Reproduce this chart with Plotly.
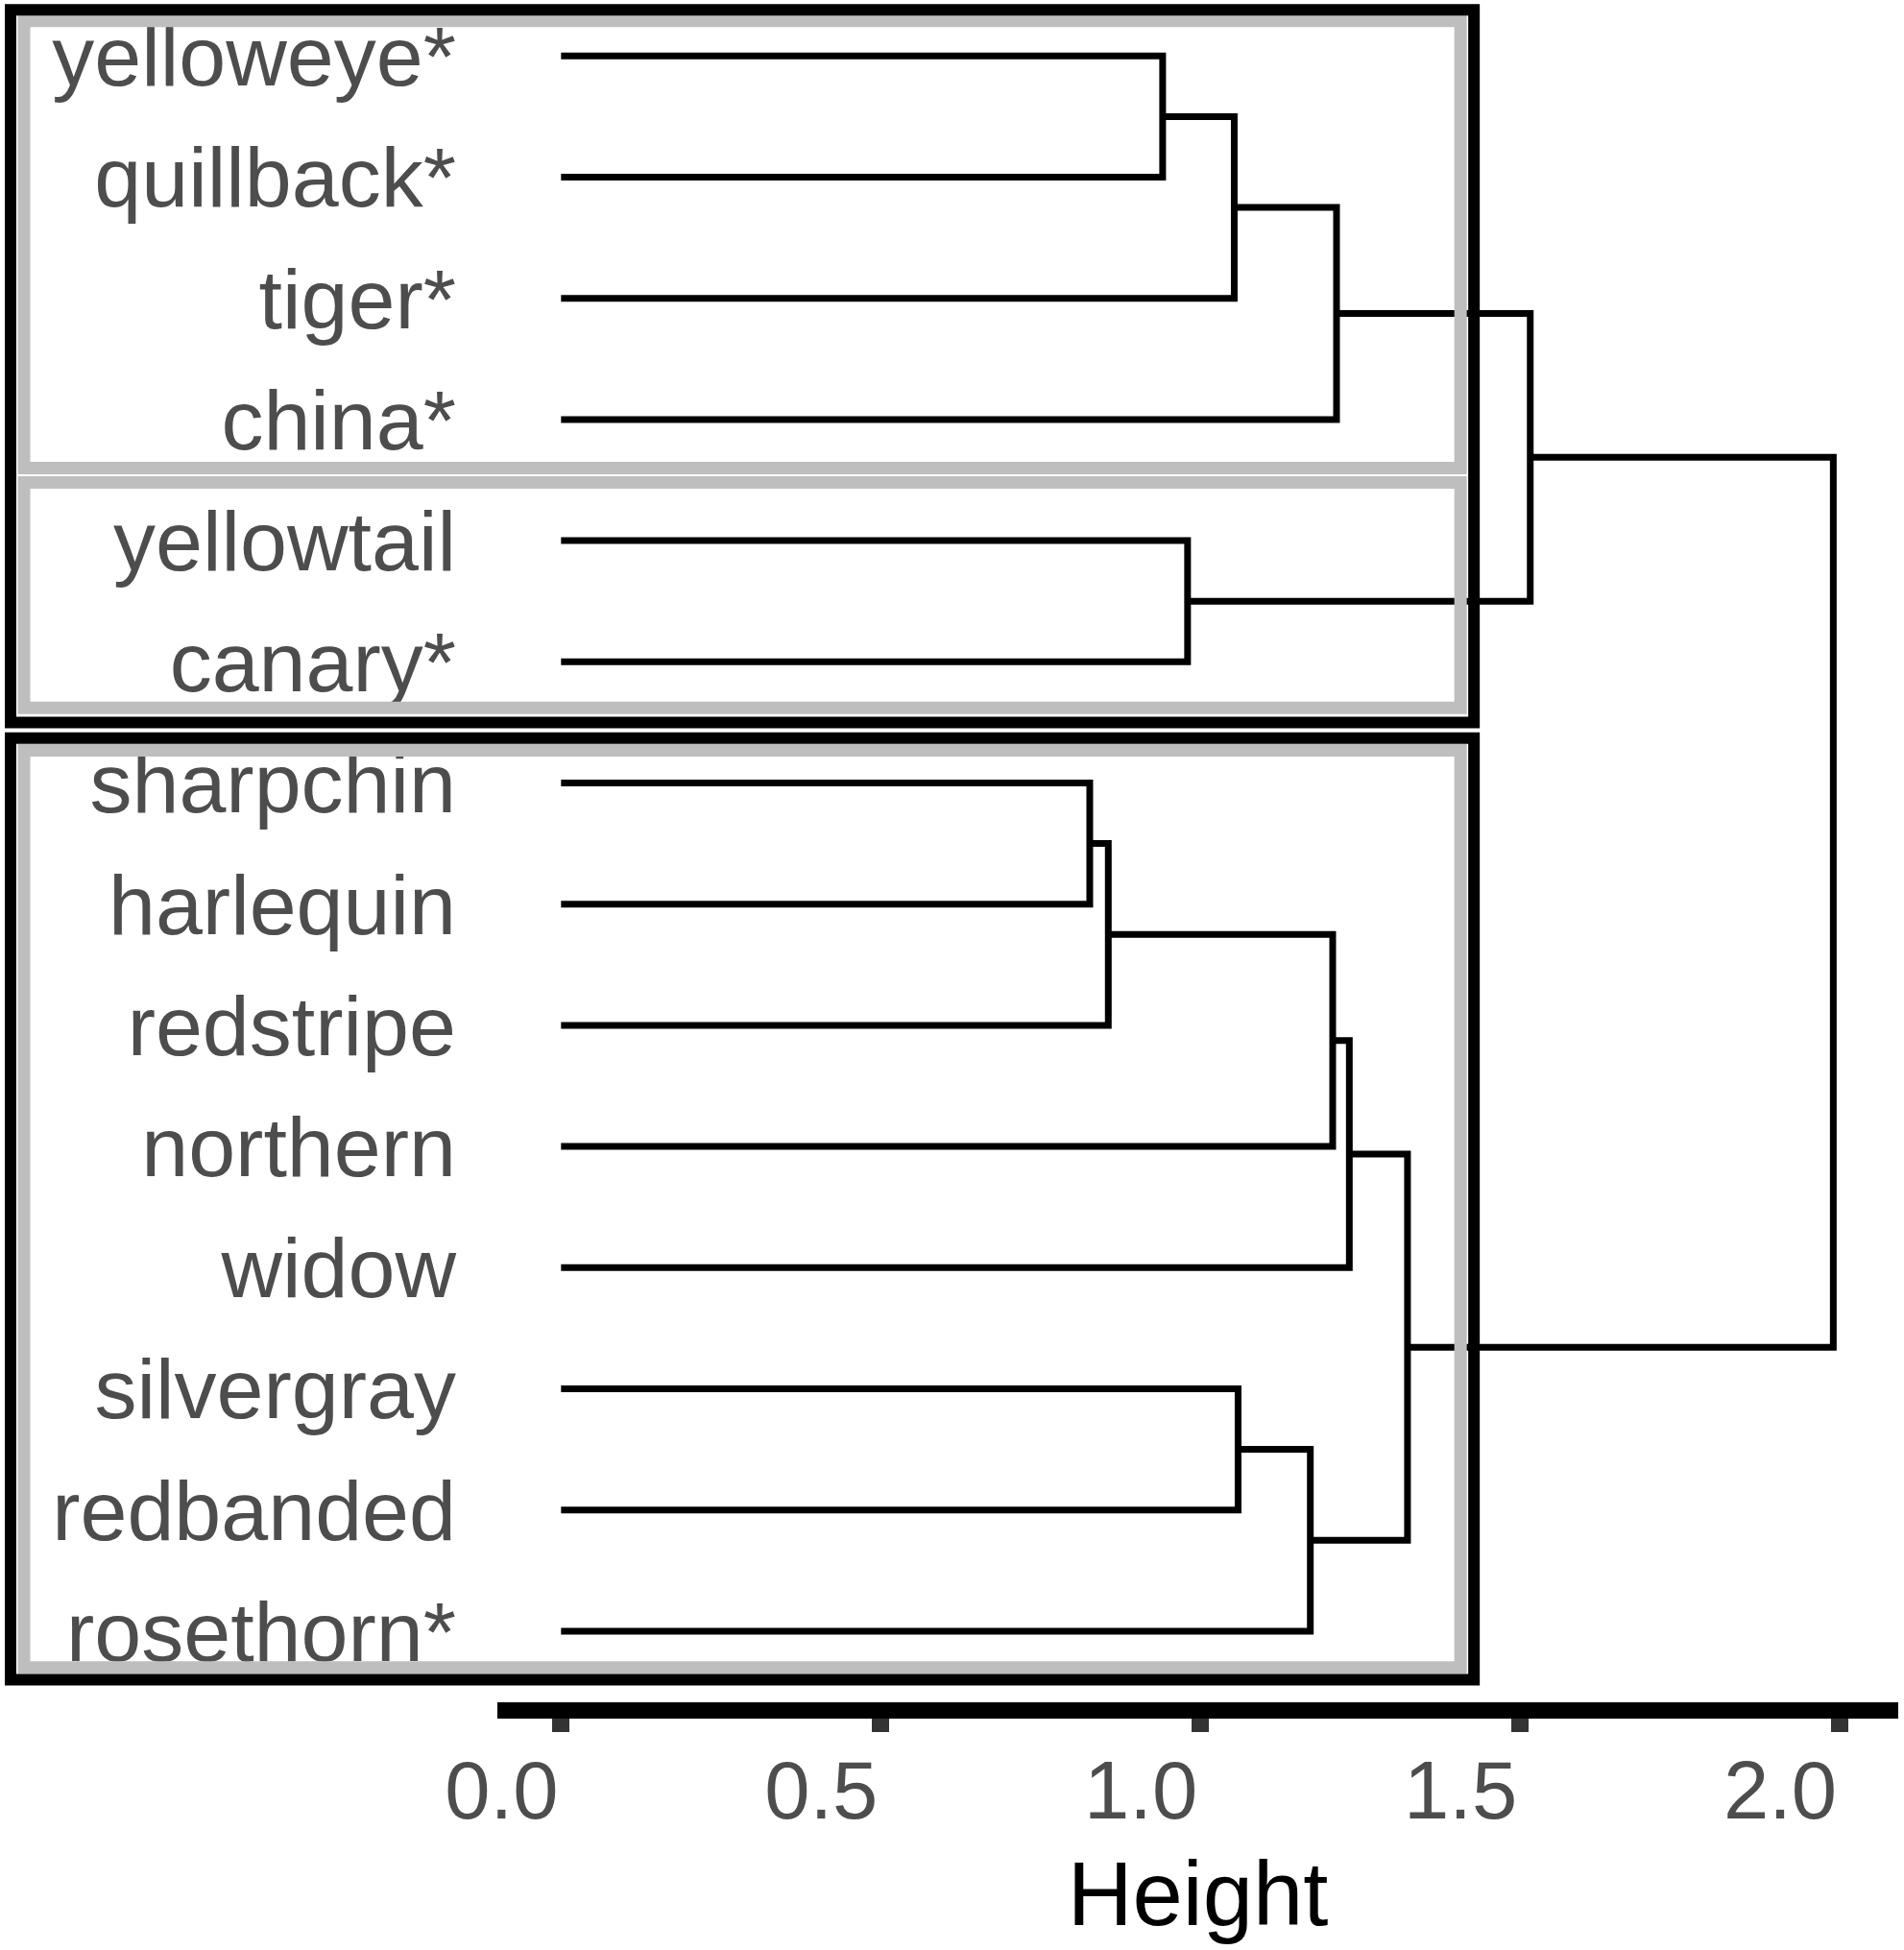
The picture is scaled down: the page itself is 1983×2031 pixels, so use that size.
import plotly.graph_objects as go

# leaves, top to bottom
labels = ["yelloweye*", "quillback*", "tiger*", "china*", "yellowtail", "canary*",
          "sharpchin", "harlequin", "redstripe", "northern", "widow",
          "silvergray", "redbanded", "rosethorn*"]

# hclust style merges: negative = leaf number, positive = earlier merge
merge_a = [-1, 1, 2, -5, 3, -7, 6, 7, 8, -12, 10, 9, 5]
merge_b = [-2, -3, -4, -6, 4, -8, -9, -10, -11, -13, -14, 11, 12]
merge_h = [0.941, 1.053, 1.213, 0.980, 1.516, 0.827, 0.856, 1.207, 1.233,
           1.059, 1.172, 1.324, 1.990]

# cluster boxes (first leaf, last leaf)
black_groups = [(1, 6), (7, 14)]
grey_groups = [(1, 4), (5, 6), (7, 14)]

XMIN, XMAX = -0.0996, 2.0916


def node(i):
    if i < 0:
        return 0.0, float(-i)
    return merge_h[i - 1], node_y[i - 1]


node_y = []
xs, ys = [], []
for a, b, h in zip(merge_a, merge_b, merge_h):
    ha, ya = node(a)
    hb, yb = node(b)
    node_y.append((ya + yb) / 2)
    xs += [ha, h, h, hb, None]
    ys += [ya, ya, yb, yb, None]

fig = go.Figure()
fig.add_trace(go.Scatter(x=xs, y=ys, mode="lines",
                         line=dict(color="black", width=7),
                         hoverinfo="skip", showlegend=False))


def px_paper(px):
    return (px - 518) / 1459


def h_paper(h):
    return (h - XMIN) / (XMAX - XMIN)


shapes = []
for (first, last), (pt, pb) in zip(grey_groups, [(0.29, 0.40), (0.48, 0.38), (0.27, 0.30)]):
    shapes.append(dict(type="rect", xref="paper", yref="y",
                       x0=px_paper(25), x1=h_paper(1.407),
                       y0=first - pt, y1=last + pb,
                       line=dict(color="#BEBEBE", width=13), layer="above"))
for (first, last), (pt, pb) in zip(black_groups, [(0.38, 0.50), (0.37, 0.40)]):
    shapes.append(dict(type="rect", xref="paper", yref="y",
                       x0=px_paper(11), x1=h_paper(1.428),
                       y0=first - pt, y1=last + pb,
                       line=dict(color="black", width=12), layer="above"))

fig.update_layout(
    width=1983, height=2031,
    margin=dict(l=518, r=6, t=0, b=258),
    plot_bgcolor="white", paper_bgcolor="white",
    font=dict(family="Liberation Sans, Arial", color="#4D4D4D"),
    shapes=shapes,
    xaxis=dict(range=[XMIN, XMAX], showgrid=False, zeroline=False,
               showline=True, linecolor="black", linewidth=17,
               ticks="outside", ticklen=14, tickwidth=18, tickcolor="#333333",
               tickvals=[0, 0.5, 1, 1.5, 2], tickformat=".1f",
               ticklabelshift=-62, ticklabelstandoff=-12,
               tickfont=dict(size=85, color="#4D4D4D"),
               title=dict(text="Height", font=dict(size=94, color="black"), standoff=36)),
    yaxis=dict(range=[14.587, 0.538], showgrid=False, zeroline=False,
               showline=False, ticks="",
               tickvals=list(range(1, len(labels) + 1)), ticktext=labels,
               ticklabelstandoff=42,
               tickfont=dict(size=88, color="#4D4D4D")),
)

fig.write_html("out.html", config={"displayModeBar": False},
               post_script="document.body.style.margin='0';")
